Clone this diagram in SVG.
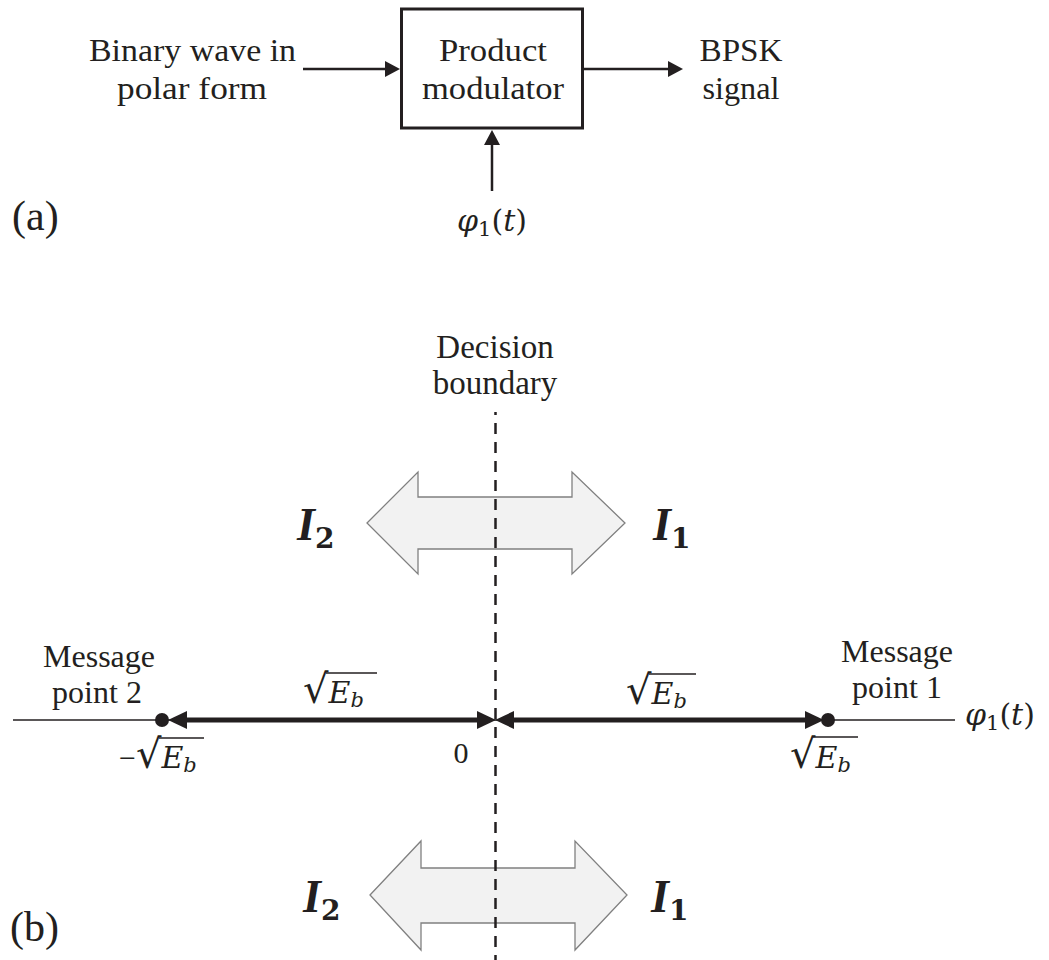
<svg xmlns="http://www.w3.org/2000/svg" width="1049" height="960" viewBox="0 0 1049 960">
  <style>
    .txt { font-family: 'Liberation Serif', 'DejaVu Serif', serif; font-size: 32px; fill: #231f20; text-anchor: middle; }
    .tag { font-family: 'Liberation Serif', 'DejaVu Serif', serif; font-size: 42px; fill: #231f20; }
    .math { font-family: 'DejaVu Serif', serif; font-size: 30px; fill: #231f20; }
    .it { font-style: italic; }
    .minus { font-family: 'Liberation Serif', serif; }
    .rad { font-family: 'DejaVu Sans', sans-serif; font-size: 40px; font-style: normal; }
    .sub { font-size: 21px; }
    .region { font-family: 'Liberation Serif', 'DejaVu Serif', serif; font-size: 46px; font-weight: bold; font-style: italic; fill: #231f20; }
    .rsub { font-family: 'DejaVu Serif', serif; font-size: 28px; font-weight: bold; font-style: normal; }
    .wire { stroke: #231f20; stroke-width: 2.5; fill: none; }
    .thin { stroke: #231f20; stroke-width: 1.6; fill: none; }
    .thick { stroke: #231f20; stroke-width: 5; fill: none; }
    .vinc { stroke: #231f20; stroke-width: 1.6; }
    .dash { stroke: #231f20; stroke-width: 2.5; stroke-dasharray: 11 8; fill: none; }
    .block { fill: #ffffff; stroke: #231f20; stroke-width: 3; }
    .dbl { fill: #f2f2f2; stroke: #808080; stroke-width: 1.3; stroke-linejoin: miter; }
    .dot { fill: #231f20; }
  </style>
  <defs>
    <marker id="tri" viewBox="0 0 15 16" refX="0" refY="8" markerWidth="15" markerHeight="16" markerUnits="userSpaceOnUse" orient="auto">
      <path d="M0,0 L15,8 L0,16 z" fill="#231f20"/>
    </marker>
    <marker id="head" viewBox="0 0 19 18" refX="0" refY="9" markerWidth="19" markerHeight="18" markerUnits="userSpaceOnUse" orient="auto-start-reverse">
      <path d="M0,0 L19,9 L0,18 z" fill="#231f20"/>
    </marker>
  </defs>

  <!-- (a) product modulator -->
  <g id="input-label">
    <text class="txt" x="192.5" y="61" textLength="207" lengthAdjust="spacingAndGlyphs">Binary wave in</text>
    <text class="txt" x="192" y="99" textLength="150" lengthAdjust="spacingAndGlyphs">polar form</text>
  </g>
  <g id="product-modulator">
    <rect class="block" x="401.5" y="9" width="181" height="119"/>
    <text class="txt" x="493" y="61" textLength="108" lengthAdjust="spacingAndGlyphs">Product</text>
    <text class="txt" x="493" y="99" textLength="142" lengthAdjust="spacingAndGlyphs">modulator</text>
  </g>
  <g id="output-label">
    <text class="txt" x="741" y="61" textLength="83" lengthAdjust="spacingAndGlyphs">BPSK</text>
    <text class="txt" x="741" y="99" textLength="77" lengthAdjust="spacingAndGlyphs">signal</text>
  </g>
  <g id="carrier-label">
    <text class="math" x="492" y="231" text-anchor="middle"><tspan class="it">φ</tspan><tspan class="sub" dy="5">1</tspan><tspan dy="-5">(</tspan><tspan class="it">t</tspan>)</text>
  </g>
  <text class="tag" x="12" y="230">(a)</text>

  <g id="connectors-a">
    <line class="wire" x1="303" y1="69" x2="385" y2="69" marker-end="url(#tri)"/>
    <line class="wire" x1="584" y1="69" x2="668" y2="69" marker-end="url(#tri)"/>
    <line class="wire" x1="492" y1="191" x2="492" y2="145" marker-end="url(#tri)"/>
  </g>

  <!-- (b) signal space -->
  <g id="decision-regions">
    <polygon class="dbl" points="367,523 418,472 418,497 572,497 572,472 625,523 572,574 572,549 418,549 418,574"/>
    <polygon class="dbl" points="370,895 421,841 421,868 575,868 575,841 627,895 575,950 575,923 421,923 421,950"/>
    <text class="region" x="297" y="540">I<tspan class="rsub" dy="8">2</tspan></text>
    <text class="region" x="653" y="540">I<tspan class="rsub" dy="8">1</tspan></text>
    <text class="region" x="303" y="912">I<tspan class="rsub" dy="8">2</tspan></text>
    <text class="region" x="651" y="912">I<tspan class="rsub" dy="8">1</tspan></text>
  </g>

  <g id="decision-boundary">
    <text class="txt" x="495" y="358" style="font-size:33px">Decision</text>
    <text class="txt" x="495" y="394" style="font-size:33px">boundary</text>
    <line class="dash" x1="495.5" y1="412" x2="495.5" y2="960" stroke-dashoffset="8"/>
  </g>

  <g id="connectors-b">
    <line class="thin" x1="13" y1="720" x2="955" y2="720"/>
    <line class="thick" x1="187" y1="720" x2="477" y2="720" marker-start="url(#head)" marker-end="url(#head)"/>
    <line class="thick" x1="514" y1="720" x2="805" y2="720" marker-start="url(#head)" marker-end="url(#head)"/>
  </g>

  <g id="message-point-2">
    <circle class="dot" cx="162" cy="720" r="7"/>
    <text class="txt" x="99" y="667">Message</text>
    <text class="txt" x="97" y="703">point 2</text>
    <text class="math" x="119" y="768"><tspan class="minus">−</tspan><tspan class="rad">√</tspan><tspan class="it">E</tspan><tspan class="sub it" dy="4">b</tspan></text>
    <line class="vinc" x1="159" y1="738" x2="204" y2="738"/>
  </g>

  <g id="message-point-1">
    <circle class="dot" cx="828" cy="720" r="7"/>
    <text class="txt" x="897" y="662">Message</text>
    <text class="txt" x="897" y="698">point 1</text>
    <text class="math" x="790" y="768"><tspan class="rad">√</tspan><tspan class="it">E</tspan><tspan class="sub it" dy="4">b</tspan></text>
    <line class="vinc" x1="813" y1="737" x2="858" y2="737"/>
  </g>

  <g id="origin">
    <text class="txt" x="461" y="763" style="font-size:30px">0</text>
  </g>

  <g id="distance-labels">
    <text class="math" x="303" y="703"><tspan class="rad">√</tspan><tspan class="it">E</tspan><tspan class="sub it" dy="4">b</tspan></text>
    <line class="vinc" x1="326" y1="673" x2="377" y2="673"/>
    <text class="math" x="626" y="704"><tspan class="rad">√</tspan><tspan class="it">E</tspan><tspan class="sub it" dy="4">b</tspan></text>
    <line class="vinc" x1="649" y1="674" x2="696" y2="674"/>
  </g>

  <g id="axis-label">
    <text class="math" x="965" y="725"><tspan class="it">φ</tspan><tspan class="sub" dy="5">1</tspan><tspan dy="-5">(</tspan><tspan class="it">t</tspan>)</text>
  </g>

  <text class="tag" x="10" y="941">(b)</text>
</svg>
